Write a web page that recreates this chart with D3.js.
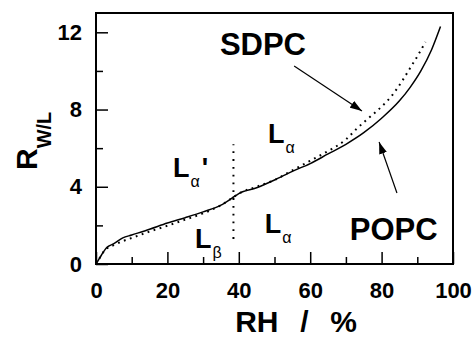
<!DOCTYPE html>
<html>
<head>
<meta charset="utf-8">
<script src="https://cdn.jsdelivr.net/npm/d3@7"></script>
<style>
  body { margin: 0; background: #fff; }
  svg { display: block; }
</style>
</head>
<body>
<svg id="chart"></svg>
<script>
// RH (%) and water/lipid ratio
const rhPopc = [0, 1, 2, 3, 5, 7.5, 10, 15, 20, 25, 30, 35, 38, 40, 45, 50, 55, 60, 65, 70, 75, 80, 85, 88, 91, 94, 96.5];
const popc   = [0, 0.3, 0.6, 0.85, 1.05, 1.35, 1.5, 1.8, 2.12, 2.4, 2.7, 3.05, 3.4, 3.65, 3.95, 4.35, 4.8, 5.2, 5.7, 6.2, 6.8, 7.55, 8.45, 9.15, 10.0, 11.1, 12.3];
const rhSdpc = [0, 1, 2, 3, 5, 8, 10, 15, 20, 25, 30, 35, 38, 40, 45, 50, 55, 60, 65, 70, 73, 76, 80, 83, 86, 88, 90, 92.3];
const sdpc   = [0, 0.3, 0.6, 0.8, 0.98, 1.22, 1.35, 1.68, 1.98, 2.3, 2.62, 3.05, 3.4, 3.65, 4.0, 4.35, 4.85, 5.35, 5.85, 6.45, 7.0, 7.5, 8.15, 8.75, 9.55, 10.15, 10.75, 11.5];

const xTicks = [0, 20, 40, 60, 80, 100];
const xMinor = [10, 30, 50, 70, 90];
const yTicks = [0, 4, 8, 12];
const yMinor = [2, 6, 10];

// phase boundary
const boundaryRh = 38.5;
const boundaryR = [1.3, 6.2];

const width = 475, height = 339;
const margin = {top: 13, right: 22, bottom: 75, left: 96};
const font = "'Liberation Sans', Arial, Helvetica, sans-serif";

const svg = d3.select("#chart")
    .attr("width", width)
    .attr("height", height)
    .style("font-family", font);

const x = d3.scaleLinear().domain([0, 100]).range([margin.left, width - margin.right]);
const y = d3.scaleLinear().domain([0, 13]).range([height - margin.bottom, margin.top]);

// minor ticks
svg.append("g")
    .attr("transform", `translate(0,${y(0)})`)
    .call(d3.axisBottom(x).tickValues(xMinor).tickSize(-7).tickFormat(""))
    .call(g => g.select(".domain").remove())
    .selectAll("line").attr("stroke-width", 1.5);

svg.append("g")
    .attr("transform", `translate(${x(0)},0)`)
    .call(d3.axisLeft(y).tickValues(yMinor).tickSize(-7).tickFormat(""))
    .call(g => g.select(".domain").remove())
    .selectAll("line").attr("stroke-width", 1.5);

// major ticks + labels
const xAxis = svg.append("g")
    .attr("transform", `translate(0,${y(0)})`)
    .call(d3.axisBottom(x).tickValues(xTicks).tickSize(-12).tickPadding(18).tickFormat(d3.format("d")))
    .call(g => g.select(".domain").remove());
xAxis.selectAll("line").attr("stroke-width", 1.5);
xAxis.selectAll("text")
    .attr("font-family", font)
    .attr("font-size", 22)
    .attr("font-weight", "bold")
    .attr("fill", "#000");

const yAxis = svg.append("g")
    .attr("transform", `translate(${x(0)},0)`)
    .call(d3.axisLeft(y).tickValues(yTicks).tickSize(-12).tickPadding(14).tickFormat(d3.format("d")))
    .call(g => g.select(".domain").remove());
yAxis.selectAll("line").attr("stroke-width", 1.5);
yAxis.selectAll("text")
    .attr("font-family", font)
    .attr("font-size", 22)
    .attr("font-weight", "bold")
    .attr("fill", "#000");

// frame
svg.append("rect")
    .attr("x", x(0))
    .attr("y", y(13))
    .attr("width", x(100) - x(0))
    .attr("height", y(0) - y(13))
    .attr("fill", "none")
    .attr("stroke", "#000")
    .attr("stroke-width", 2);

const line = d3.line()
    .x(d => x(d[0]))
    .y(d => y(d[1]))
    .curve(d3.curveMonotoneX);

svg.append("path")
    .datum(d3.zip(rhSdpc, sdpc))
    .attr("fill", "none")
    .attr("stroke", "#000")
    .attr("stroke-width", 2)
    .attr("stroke-dasharray", "1.8,4.5")
    .attr("d", line);

svg.append("path")
    .datum(d3.zip(rhPopc, popc))
    .attr("fill", "none")
    .attr("stroke", "#000")
    .attr("stroke-width", 1.5)
    .attr("d", line);

// vertical dotted line
svg.append("line")
    .attr("x1", x(boundaryRh)).attr("x2", x(boundaryRh))
    .attr("y1", y(boundaryR[0])).attr("y2", y(boundaryR[1]))
    .attr("stroke", "#000")
    .attr("stroke-width", 2)
    .attr("stroke-dasharray", "1.8,6");

// axis titles
svg.append("text")
    .attr("x", 296)
    .attr("y", 332)
    .attr("text-anchor", "middle")
    .attr("font-size", 30)
    .attr("font-weight", "bold")
    .attr("word-spacing", 2.5)
    .style("white-space", "pre")
    .text("RH  /  %");

const yTitle = svg.append("text")
    .attr("transform", "translate(37,170) rotate(-90)")
    .attr("font-size", 30)
    .attr("font-weight", "bold");
yTitle.append("tspan").text("R");
yTitle.append("tspan").attr("font-size", 20).attr("dy", 14).text("W/L");

// curve names
svg.append("text")
    .attr("x", x(34.7)).attr("y", y(10.82))
    .attr("font-size", 31).attr("font-weight", "bold")
    .text("SDPC");
svg.append("text")
    .attr("x", x(71.1)).attr("y", y(1.24))
    .attr("font-size", 31).attr("font-weight", "bold")
    .text("POPC");

// phase labels
const phases = [
    {rh: 48.2, r: 6.27, sub: "α", prime: false},
    {rh: 21.6, r: 4.5, sub: "α", prime: true},
    {rh: 27.7, r: 0.83, sub: "β", prime: false},
    {rh: 47.3, r: 1.6, sub: "α", prime: false}
];
phases.forEach(p => {
    const t = svg.append("text")
        .attr("x", x(p.rh)).attr("y", y(p.r))
        .attr("font-size", 27).attr("font-weight", "bold");
    t.append("tspan").text("L");
    t.append("tspan").attr("font-size", 16).attr("font-weight", "normal").attr("dx", 1).attr("dy", 10).text(p.sub);
    if (p.prime) t.append("tspan").attr("dx", 2).attr("dy", -10).text("'");
});

// arrows
svg.append("defs").append("marker")
    .attr("id", "head")
    .attr("viewBox", "0 0 12 8")
    .attr("refX", 12).attr("refY", 4)
    .attr("markerWidth", 12).attr("markerHeight", 8)
    .attr("markerUnits", "userSpaceOnUse")
    .attr("orient", "auto")
    .append("path")
    .attr("d", "M0,0L12,4L0,8Z")
    .attr("fill", "#000");

const arrows = [
    {from: [55.5, 10.25], to: [74.5, 7.93]},
    {from: [84.3, 3.68], to: [79.3, 6.32]}
];
svg.selectAll(".arrow")
    .data(arrows)
    .enter()
    .append("line")
    .attr("class", "arrow")
    .attr("x1", d => x(d.from[0])).attr("y1", d => y(d.from[1]))
    .attr("x2", d => x(d.to[0])).attr("y2", d => y(d.to[1]))
    .attr("stroke", "#000")
    .attr("stroke-width", 1.2)
    .attr("marker-end", "url(#head)");
</script>
</body>
</html>
